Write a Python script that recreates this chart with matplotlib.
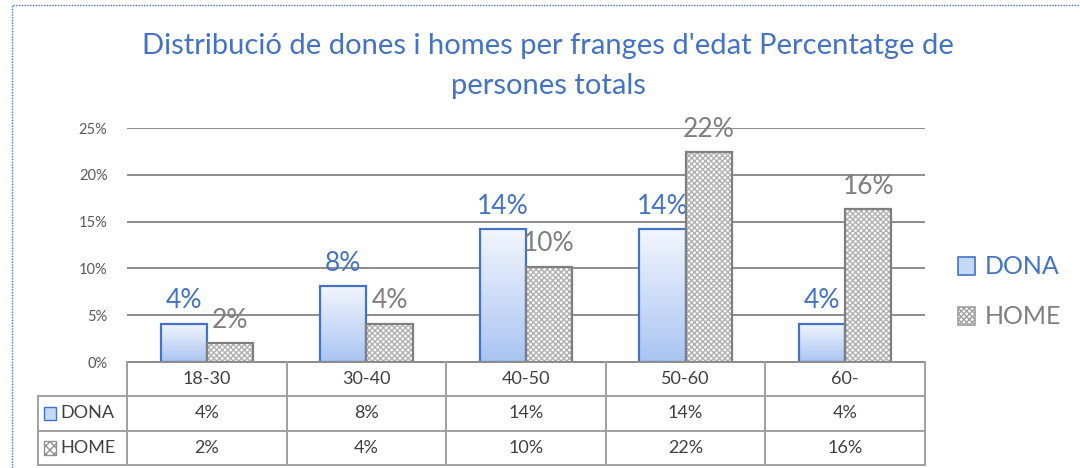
import matplotlib
matplotlib.use('Agg')
import matplotlib.pyplot as plt
from matplotlib.patches import Rectangle
import numpy as np

plt.rcParams['font.family'] = ['Lato', 'DejaVu Sans']

# data (percent of total persons)
categories = ['18-30', '30-40', '40-50', '50-60', '60-']
dona = [4.1, 8.1, 14.2, 14.2, 4.1]
home = [2.0, 4.1, 10.2, 22.4, 16.3]
series_names = ['DONA', 'HOME']
yticks = [0, 5, 10, 15, 20, 25]
title = "Distribució de dones i homes per franges d'edat Percentatge de\npersones totals"

blue = '#4472c4'
grey = '#7f7f7f'
grid_c = '#8c8c8c'
text_c = '#595959'

W, H = 1080, 468
fig = plt.figure(figsize=(W / 100, H / 100), dpi=100)
fig.patch.set_facecolor('white')

# dotted frame around the chart area
fig.add_artist(Rectangle((12 / W, -0.1), 1.2, 1.1 - 5 / H, transform=fig.transFigure,
                         fill=False, ec=blue, lw=1, ls=(0, (1, 1))))

fig.text(548 / W, 1 - 66 / H, title, ha='center', va='center', fontsize=21,
         color=blue, linespacing=1.7)

# main axes
x0, x1 = 127 / W, 925 / W
ax = fig.add_axes([x0, 1 - 362 / H, x1 - x0, (362 - 128) / H])
for s in ax.spines.values():
    s.set_visible(False)
ax.set_yticks(yticks)
ax.set_yticklabels([f'{v}%' for v in yticks], fontsize=10.5, color=text_c)
ax.tick_params(axis='y', length=0, pad=14)
ax.set_xticks([])
for v in yticks:
    ax.axhline(v, color=grid_c, lw=1.4, zorder=0)

bw = 0.29
xs = np.arange(len(categories)) + 0.5
grad = np.linspace(0, 1, 256).reshape(-1, 1)
cmap = matplotlib.colors.LinearSegmentedColormap.from_list('g', ['#a9c4f2', '#f2f6fd'])

for x, d, h in zip(xs, dona, home):
    # DONA bar, gradient fill
    ax.add_patch(Rectangle((x - bw, 0), bw, d, fc='none', ec=blue, lw=1.6, zorder=3))
    im = ax.imshow(grad, extent=(x - bw, x, 0, d), origin='lower', cmap=cmap,
                   aspect='auto', zorder=2)
    im.set_clip_path(Rectangle((x - bw, 0), bw, d, transform=ax.transData))
    ax.text(x - bw / 2, d + 1.1, f'{round(d)}%', ha='center', va='bottom',
            fontsize=19, color=blue)
    # HOME bar, patterned
    ax.add_patch(Rectangle((x, 0), bw, h, fc='white', ec='#b0b0b0', lw=0,
                           hatch='xxxxxx', zorder=2))
    ax.add_patch(Rectangle((x, 0), bw, h, fc='none', ec=grey, lw=1.6, zorder=3))
    ax.text(x + bw / 2, h + 1.1, f'{round(h)}%', ha='center', va='bottom',
            fontsize=19, color=grey)
ax.set_ylim(0, 25)
ax.set_xlim(0, len(categories))

# legend at the right
lx = 958 / W
for i, (name, col) in enumerate(zip(series_names, [blue, grey])):
    yc = 1 - (266 + 50 * i) / H
    if i == 0:
        fig.add_artist(Rectangle((lx, yc - 9 / H), 17 / W, 18 / H, transform=fig.transFigure,
                                 fc='#c5d8f7', ec=blue, lw=1.2))
    else:
        fig.add_artist(Rectangle((lx, yc - 9 / H), 17 / W, 18 / H, transform=fig.transFigure,
                                 fc='white', ec='#a0a0a0', lw=1.2, hatch='xxxxxx'))
    fig.text(985 / W, yc, name, ha='left', va='center', fontsize=18, color=col)

# data table below the plot
tx0 = 38 / W
tax = fig.add_axes([tx0, 1 - 465 / H, x1 - tx0, (465 - 362) / H])
lab_w = (127 - 38) / ((925 - 127) / len(categories))
tax.set_xlim(-lab_w, len(categories))
tax.set_ylim(0, 3)
tax.axis('off')
lc = '#a0a0a0'
n = len(categories)
for yy in [0, 1, 2]:
    tax.plot([-lab_w, n], [yy, yy], color=lc, lw=1.4, clip_on=False)
tax.plot([0, n], [3, 3], color=grid_c, lw=1.4, clip_on=False)
tax.plot([-lab_w, -lab_w], [0, 2], color=lc, lw=1.4, clip_on=False)
for k in range(n + 1):
    tax.plot([k, k], [0, 3], color=lc, lw=1.4, clip_on=False)

for k, c in enumerate(categories):
    tax.text(k + 0.5, 2.5, c, ha='center', va='center', fontsize=13, color='#404040')
    tax.text(k + 0.5, 1.5, f'{round(dona[k])}%', ha='center', va='center', fontsize=13, color='#404040')
    tax.text(k + 0.5, 0.5, f'{round(home[k])}%', ha='center', va='center', fontsize=13, color='#404040')

tax.add_patch(Rectangle((-lab_w + 0.04, 1.3), 0.075, 0.4, fc='#c5d8f7', ec=blue, lw=1, clip_on=False))
tax.add_patch(Rectangle((-lab_w + 0.04, 0.3), 0.075, 0.4, fc='white', ec='#909090', lw=1,
                        hatch='xxxx', clip_on=False))
tax.text(-lab_w + 0.14, 1.5, 'DONA', ha='left', va='center', fontsize=13, color='#404040')
tax.text(-lab_w + 0.14, 0.5, 'HOME', ha='left', va='center', fontsize=13, color='#404040')

fig.savefig('out.png', dpi=100, facecolor='white')
